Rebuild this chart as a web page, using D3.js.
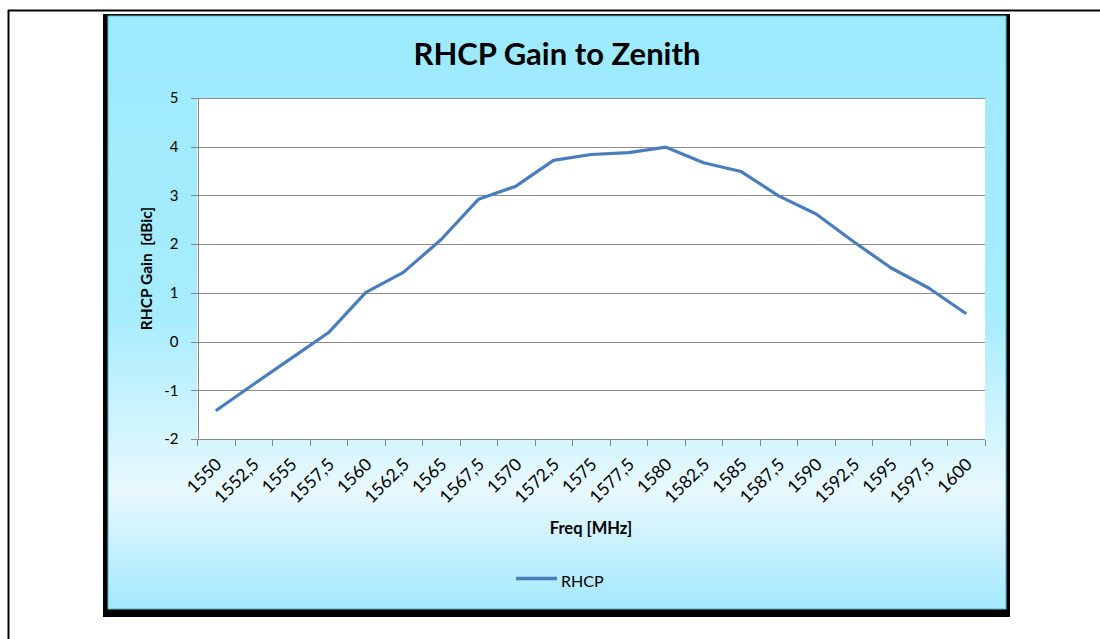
<!doctype html>
<html lang="en">
<head>
<meta charset="utf-8">
<script src="https://d3js.org/d3.v7.min.js"></script>
<style>
body { margin: 0; background: #fff; font-family: Lato, "Open Sans", sans-serif; }
.grid line { stroke: #8c8c8c; stroke-width: 1; shape-rendering: crispEdges; }
.axis path, .axis line { stroke: #868686; stroke-width: 1; shape-rendering: crispEdges; fill: none; }
.axis text { font-family: Lato, sans-serif; font-size: 15px; fill: #000; }
.axis text.lbl { font-size: 17.5px; }
</style>
</head>
<body>
<script>
// frequencies on the category axis (MHz)
var freqs = [1550, 1552.5, 1555, 1557.5, 1560, 1562.5, 1565, 1567.5, 1570, 1572.5,
             1575, 1577.5, 1580, 1582.5, 1585, 1587.5, 1590, 1592.5, 1595, 1597.5, 1600];
// RHCP gain to zenith, dBic
var gain = [-1.42, -0.88, -0.35, 0.18, 1.01, 1.42, 2.09, 2.92, 3.19, 3.72,
            3.84, 3.88, 3.99, 3.67, 3.49, 2.99, 2.62, 2.05, 1.51, 1.10, 0.57];
var yTicks = [-2, -1, 0, 1, 2, 3, 4, 5];
var seriesName = "RHCP";

var W = 1100, H = 639;
var svg = d3.select("body").append("svg")
    .attr("width", W).attr("height", H);

// page frame lines
svg.append("line").attr("x1", 8).attr("x2", W).attr("y1", 10.5).attr("y2", 10.5)
  .attr("stroke", "#000").attr("stroke-width", 2);
svg.append("line").attr("x1", 8.5).attr("x2", 8.5).attr("y1", 10).attr("y2", H)
  .attr("stroke", "#000").attr("stroke-width", 2);

// chart box background
var defs = svg.append("defs");
var grad = defs.append("linearGradient").attr("id", "bg")
    .attr("x1", 0).attr("y1", 0).attr("x2", 0).attr("y2", 1);
grad.append("stop").attr("offset", "0%").attr("stop-color", "#9deafd");
grad.append("stop").attr("offset", "50%").attr("stop-color", "#a6ecfd");
grad.append("stop").attr("offset", "80%").attr("stop-color", "#e8f9fe");
grad.append("stop").attr("offset", "100%").attr("stop-color", "#a3e8fc");

svg.append("rect").attr("x", 103).attr("y", 14).attr("width", 907).attr("height", 603)
  .attr("fill", "#000");
svg.append("rect").attr("x", 108).attr("y", 16).attr("width", 898).attr("height", 593)
  .attr("fill", "url(#bg)").attr("stroke", "#5fb6cf").attr("stroke-width", 1);

var x = d3.scaleBand().domain(freqs).range([197, 985]).padding(0);
var y = d3.scaleLinear().domain([-2, 5]).range([439, 98]);
var cx = function(f) { return x(f) + x.bandwidth() / 2; };

// plot area
svg.append("rect").attr("x", 197).attr("y", y(5)).attr("width", 985 - 197).attr("height", y(-2) - y(5))
  .attr("fill", "#fff");

svg.append("g").attr("class", "grid")
  .selectAll("line").data(yTicks.filter(function(d) { return d > -2; })).enter().append("line")
  .attr("x1", 197).attr("x2", 985)
  .attr("y1", function(d) { return Math.round(y(d)) + 0.5; })
  .attr("y2", function(d) { return Math.round(y(d)) + 0.5; });

// y axis
var yAxis = svg.append("g").attr("class", "axis")
  .attr("transform", "translate(197.5,0)")
  .call(d3.axisLeft(y).tickValues(yTicks).tickSize(7).tickPadding(12).tickFormat(d3.format("d")));
yAxis.selectAll("text").text(function(d) { return d < 0 ? "-" + Math.abs(d) : d; });

// x axis
var xAxis = svg.append("g").attr("class", "axis")
  .attr("transform", "translate(0," + (Math.round(y(-2)) + 0.5) + ")");
xAxis.append("line").attr("x1", 197).attr("x2", 985).attr("y1", 0).attr("y2", 0);
var bounds = freqs.map(function(f) { return x(f); }).concat([x(freqs[freqs.length - 1]) + x.bandwidth()]);
xAxis.selectAll(".tk").data(bounds).enter().append("line").attr("class", "tk")
  .attr("x1", function(d) { return Math.round(d) + 0.5; })
  .attr("x2", function(d) { return Math.round(d) + 0.5; })
  .attr("y1", 0).attr("y2", 6);
xAxis.selectAll(".lbl").data(freqs).enter().append("text").attr("class", "lbl")
  .attr("transform", function(d) { return "translate(" + (cx(d) + 7) + ",26) rotate(-45)"; })
  .attr("text-anchor", "end")
  .text(function(d) { return String(d).replace(".", ","); });

// series line
var line = d3.line()
  .x(function(d, i) { return cx(freqs[i]); })
  .y(function(d) { return y(d); });
svg.append("path").datum(gain)
  .attr("d", line)
  .attr("fill", "none").attr("stroke", "#4a7ebb").attr("stroke-width", 3.2)
  .attr("stroke-linejoin", "round");

// titles
svg.append("text").attr("x", 557).attr("y", 65).attr("text-anchor", "middle")
  .style("font-family", "Lato, sans-serif").style("font-weight", "bold").style("font-size", "31px")
  .text("RHCP Gain to Zenith");
svg.append("text").attr("transform", "translate(152," + ((y(5) + y(-2)) / 2) + ") rotate(-90)")
  .attr("text-anchor", "middle")
  .style("font-family", "Lato, sans-serif").style("font-weight", "bold").style("font-size", "15.5px")
  .style("white-space", "pre")
  .text("RHCP Gain  [dBic]");
svg.append("text").attr("x", 591).attr("y", 534).attr("text-anchor", "middle")
  .style("font-family", "Lato, sans-serif").style("font-weight", "bold").style("font-size", "16.5px")
  .text("Freq [MHz]");

// legend
svg.append("line").attr("x1", 516).attr("x2", 557).attr("y1", 578.5).attr("y2", 578.5)
  .attr("stroke", "#4a7ebb").attr("stroke-width", 3.5);
svg.append("text").attr("x", 561).attr("y", 587)
  .style("font-family", "Lato, sans-serif").style("font-size", "16px")
  .text(seriesName);
</script>
</body>
</html>
